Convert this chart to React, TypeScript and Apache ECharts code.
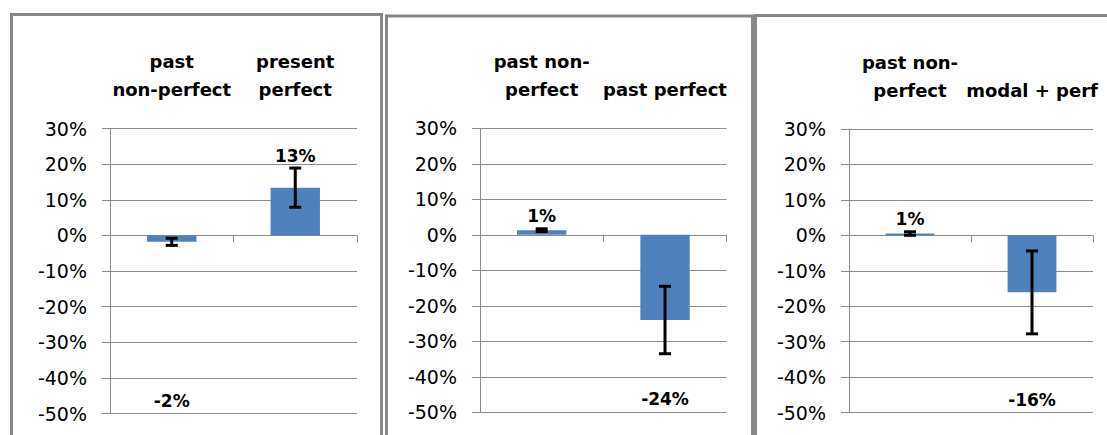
import React, { useEffect, useRef } from "react";
import * as echarts from "echarts";

const categories1 = ["past\nnon-perfect", "present\nperfect"];
const categories2 = ["past non-\nperfect", "past perfect"];
const categories3 = ["past non-\nperfect", "modal + perf"];

const values1 = [-1.8, 13.4];
const errors1 = [1.0, 5.5];
const values2 = [1.3, -24.0];
const errors2 = [0.4, 9.5];
const values3 = [0.5, -16.1];
const errors3 = [0.5, 11.7];

const yMin = -50;
const yMax = 30;
const yStep = 10;

const FONT = "DejaVu Sans";
const GRID_COLOR = "#8c8c8c";
const BAR_COLOR = "#4F81BD";
const BORDER = "#878787";

const panels = [
  { cats: categories1, vals: values1, errs: errors1, grid: { left: 110, top: 128.5, width: 247, height: 285 } },
  { cats: categories2, vals: values2, errs: errors2, grid: { left: 480, top: 128.3, width: 246.7, height: 284 } },
  { cats: categories3, vals: values3, errs: errors3, grid: { left: 849, top: 129, width: 244, height: 283.5 } },
];

function renderErr(params: any, api: any) {
  const idx = api.value(0);
  const v = api.value(1);
  const e = api.value(2);
  const top = api.coord([idx, v + e]);
  const bot = api.coord([idx, v - e]);
  const base = api.coord([idx, yMin]);
  const x = top[0];
  const cap = 6;
  const ls = { stroke: "#000", lineWidth: 3 };
  const label = Math.round(v) + "%";
  const textY = v >= 0 ? top[1] - 4 : base[1] - 13;
  return {
    type: "group",
    children: [
      { type: "line", shape: { x1: x, y1: top[1], x2: x, y2: bot[1] }, style: ls },
      { type: "line", shape: { x1: x - cap, y1: top[1], x2: x + cap, y2: top[1] }, style: ls },
      { type: "line", shape: { x1: x - cap, y1: bot[1], x2: x + cap, y2: bot[1] }, style: ls },
      {
        type: "text",
        x,
        y: textY,
        style: {
          text: label,
          fill: "#000",
          fontSize: 17,
          fontWeight: "bold",
          fontFamily: FONT,
          align: "center",
          verticalAlign: v >= 0 ? "bottom" : "middle",
        },
      },
    ],
  };
}

export default function App() {
  const ref = useRef<HTMLDivElement>(null);
  useEffect(() => {
    if (!ref.current) return;
    const chart = echarts.init(ref.current, undefined, { renderer: "svg" });
    const grid: any[] = [];
    const xAxis: any[] = [];
    const yAxis: any[] = [];
    const series: any[] = [];
    panels.forEach((p, i) => {
      grid.push({ ...p.grid, containLabel: false });
      xAxis.push({
        type: "category",
        gridIndex: i,
        data: p.cats,
        position: "top",
        axisLine: { show: false, onZero: false },
        axisTick: { show: false },
        splitLine: { show: false },
        axisLabel: {
          interval: 0,
          margin: 25,
          fontFamily: FONT,
          fontSize: 18,
          fontWeight: "bold",
          color: "#000",
          lineHeight: 28,
        },
      });
      xAxis.push({
        type: "category",
        gridIndex: i,
        data: p.cats,
        position: "bottom",
        axisLine: { show: true, onZero: true, lineStyle: { color: GRID_COLOR, width: 1 } },
        axisTick: { show: true, length: 7, interval: 0, lineStyle: { color: GRID_COLOR, width: 1 } },
        axisLabel: { show: false },
        splitLine: { show: false },
      });
      yAxis.push({
        type: "value",
        gridIndex: i,
        min: yMin,
        max: yMax,
        interval: yStep,
        axisLine: { show: true, lineStyle: { color: GRID_COLOR, width: 1 } },
        axisTick: { show: true, length: 8, lineStyle: { color: GRID_COLOR, width: 1 } },
        splitLine: { show: true, lineStyle: { color: GRID_COLOR, width: 1 } },
        axisLabel: {
          margin: 23,
          fontFamily: FONT,
          fontSize: 19,
          color: "#000",
          formatter: (val: number) => `${val}%`,
        },
      });
      series.push({
        type: "bar",
        xAxisIndex: i * 2 + 1,
        yAxisIndex: i,
        data: p.vals,
        barWidth: "40%",
        itemStyle: { color: BAR_COLOR },
        silent: true,
      });
      series.push({
        type: "custom",
        xAxisIndex: i * 2 + 1,
        yAxisIndex: i,
        data: p.vals.map((v, k) => [k, v, p.errs[k]]),
        encode: { x: 0, y: 1 },
        renderItem: renderErr,
        clip: false,
        silent: true,
        z: 5,
      });
    });
    chart.setOption({
      animation: false,
      backgroundColor: "#ffffff",
      grid,
      xAxis,
      yAxis,
      series,
      graphic: [
        { type: "rect", silent: true, shape: { x: 11.5, y: 14.5, width: 370, height: 500 }, style: { fill: "none", stroke: BORDER, lineWidth: 3 } },
        { type: "rect", silent: true, shape: { x: 386.5, y: 16, width: 366, height: 500 }, style: { fill: "none", stroke: BORDER, lineWidth: 3 } },
        { type: "rect", silent: true, shape: { x: 755.5, y: 15.5, width: 500, height: 500 }, style: { fill: "none", stroke: BORDER, lineWidth: 3 } },
      ],
    });
    return () => chart.dispose();
  }, []);
  return (
    <div
      ref={ref}
      style={{ position: "fixed", left: 0, top: 0, width: 1107, height: 435, background: "#fff" }}
    />
  );
}
